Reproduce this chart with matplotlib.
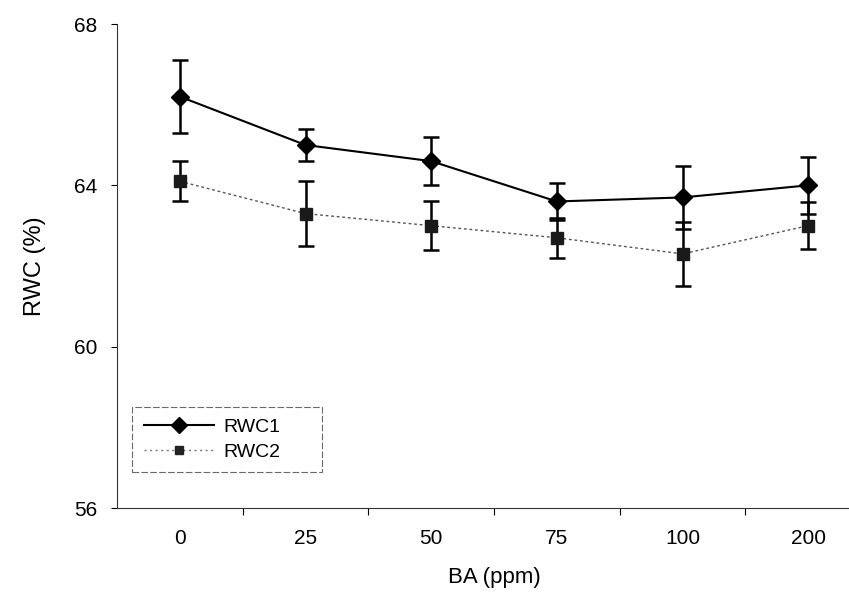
import numpy as np
import matplotlib
matplotlib.use("Agg")
import matplotlib.pyplot as plt
from matplotlib.lines import Line2D

plt.rcParams['font.family'] = ['Liberation Sans', 'DejaVu Sans']

ba_labels = ['0', '25', '50', '75', '100', '200']
rwc1 = [66.2, 65.0, 64.6, 63.6, 63.7, 64.0]
rwc1_err = [0.9, 0.4, 0.6, 0.47, 0.78, 0.7]
rwc2 = [64.1, 63.3, 63.0, 62.7, 62.3, 63.0]
rwc2_err = [0.5, 0.8, 0.6, 0.5, 0.8, 0.58]

x = np.arange(len(ba_labels))

fig = plt.figure(figsize=(8.49, 5.99), dpi=100)
# plot area runs a bit past the right edge of the page, like the scan
ax = fig.add_axes([117/849, 91/599, 754/849, 484/599])

ax.plot(x, rwc2, color='#555555', lw=1.0, ls=(0, (2, 2)), zorder=2)
ax.errorbar(x, rwc2, yerr=rwc2_err, color='black', lw=0, marker='s', ms=8,
            mfc='#1a1a1a', mec='#1a1a1a', elinewidth=1.8, capsize=6, capthick=1.8,
            zorder=3)
ax.errorbar(x, rwc1, yerr=rwc1_err, color='black', lw=1.5, marker='D', ms=9,
            elinewidth=1.8, capsize=6, capthick=1.8, zorder=4)

ax.set_xlim(-0.5, 5.5)
ax.set_ylim(56, 68)
ax.set_yticks([56, 60, 64, 68])
ax.set_xticks(x)
ax.set_xticklabels(ba_labels)
ax.set_xticks(np.arange(0.5, 5.0, 1.0), minor=True)
ax.tick_params(axis='x', which='major', length=0, pad=15, labelsize=15)
ax.tick_params(axis='x', which='minor', length=5, width=0.8, direction='out')
ax.tick_params(axis='y', which='major', length=4, width=0.8, direction='out',
               pad=10, labelsize=15)

for side in ['top', 'right']:
    ax.spines[side].set_visible(False)
for side in ['left', 'bottom']:
    ax.spines[side].set_linewidth(0.8)
    ax.spines[side].set_color('#333333')

ax.set_xlabel('BA (ppm)', fontsize=16, labelpad=14)
ax.set_ylabel('RWC (%)', fontsize=17, labelpad=20)

handles = [
    Line2D([], [], color='black', lw=1.5, marker='D', ms=8, label='RWC1'),
    Line2D([], [], color='#777777', lw=1.0, ls=(0, (1.5, 2.5)), marker='s',
           ms=6, mfc='#222222', mec='#222222', label='RWC2'),
]
leg = ax.legend(handles=handles, loc='lower left',
                bbox_to_anchor=(0.02, 0.074, 0.252, 0.14), mode='expand',
                borderaxespad=0, fontsize=14, frameon=True, fancybox=False,
                edgecolor='#444444', handlelength=3.6, handletextpad=0.5,
                borderpad=0.6, labelspacing=0.35)
leg.get_frame().set_linewidth(0.8)
leg.get_frame().set_linestyle((0, (6, 2)))

fig.savefig('out.png', dpi=100)
